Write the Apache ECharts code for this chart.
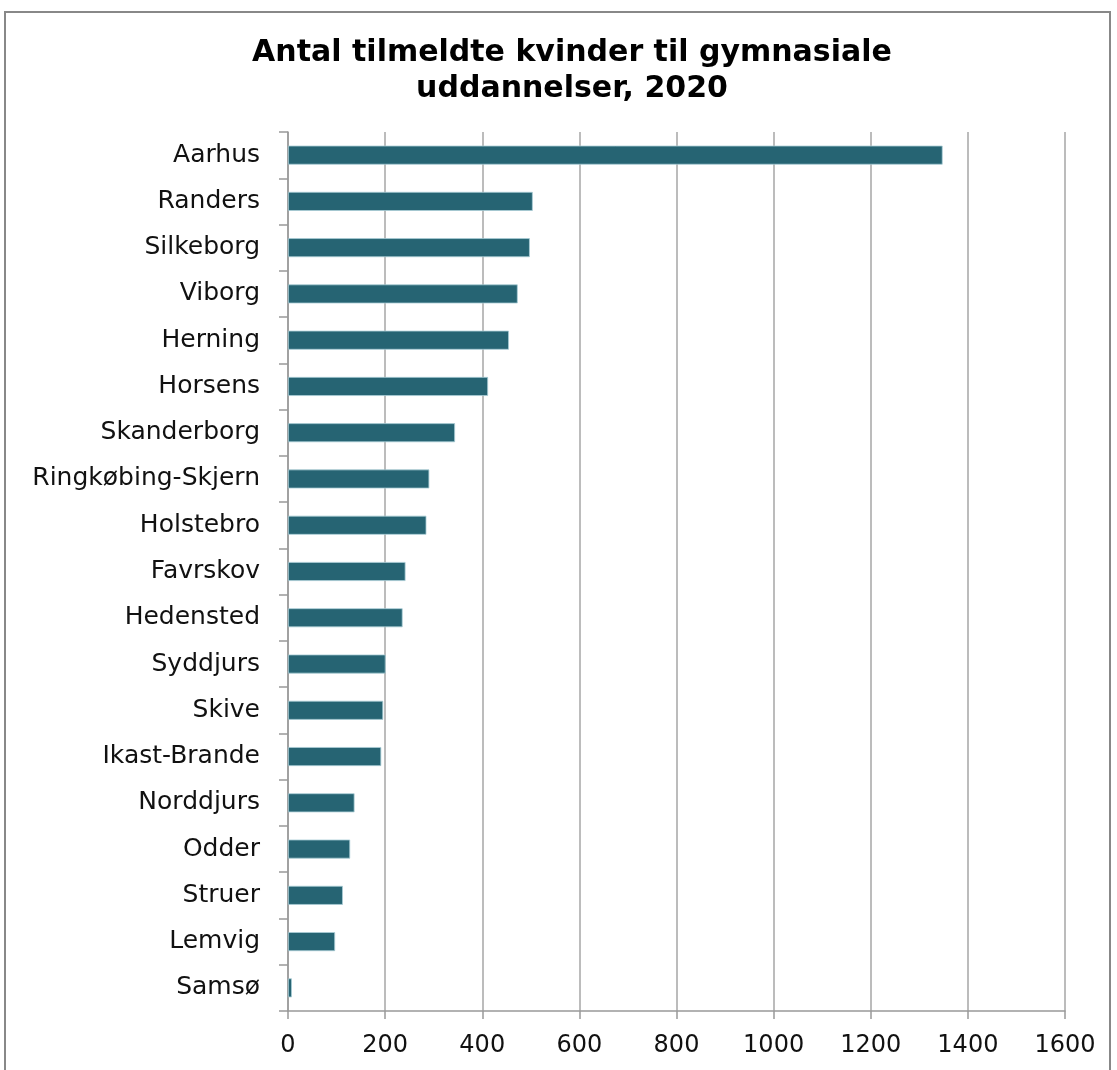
<!DOCTYPE html>
<html>
<head>
<meta charset="utf-8">
<script src="https://cdn.jsdelivr.net/npm/echarts@6/dist/echarts.min.js"></script>
<style>
  html, body { margin: 0; padding: 0; background: #fff; }
  #main { width: 1117px; height: 1070px; }
</style>
</head>
<body>
<div id="main"></div>
<script>
var kommuner = ['Aarhus', 'Randers', 'Silkeborg', 'Viborg', 'Herning', 'Horsens', 'Skanderborg',
  'Ringkøbing-Skjern', 'Holstebro', 'Favrskov', 'Hedensted', 'Syddjurs', 'Skive',
  'Ikast-Brande', 'Norddjurs', 'Odder', 'Struer', 'Lemvig', 'Samsø'];
var tilmeldte = [1348, 504, 498, 473, 455, 412, 344, 291, 285, 242, 236, 201, 196, 192, 137, 128, 113, 97, 8];
var xTicks = [0, 200, 400, 600, 800, 1000, 1200, 1400, 1600];

var myChart = echarts.init(document.getElementById('main'));

var option = {
  backgroundColor: '#fff',
  animation: false,
  title: {
    text: 'Antal tilmeldte kvinder til gymnasiale\nuddannelser, 2020',
    left: 567,
    textAlign: 'center',
    top: 30,
    textStyle: {
      fontFamily: 'DejaVu Sans',
      fontWeight: 'bold',
      fontSize: 30,
      lineHeight: 36,
      color: '#000'
    }
  },
  graphic: [{
    type: 'rect',
    shape: { x: 5, y: 12, width: 1105, height: 1070 },
    style: { fill: 'none', stroke: '#888', lineWidth: 2 },
    silent: true
  }],
  grid: { left: 288, right: 52, top: 132, bottom: 59 },
  xAxis: {
    type: 'value',
    min: xTicks[0],
    max: xTicks[xTicks.length - 1],
    interval: 200,
    axisLine: { show: true, lineStyle: { color: '#999', width: 1.5 } },
    axisTick: { show: true, length: 8, lineStyle: { color: '#999', width: 1.5 } },
    splitLine: { show: true, lineStyle: { color: '#a6a6a6', width: 1.5 } },
    axisLabel: {
      margin: 23,
      fontFamily: 'DejaVu Sans',
      fontSize: 24,
      color: '#111',
      formatter: function (v) { return String(v); }
    }
  },
  yAxis: {
    type: 'category',
    inverse: true,
    data: kommuner,
    axisLine: { show: true, lineStyle: { color: '#999', width: 1.5 } },
    axisTick: { show: true, length: 9, lineStyle: { color: '#999', width: 1.5 } },
    axisLabel: {
      margin: 28,
      fontFamily: 'DejaVu Sans',
      fontSize: 25,
      color: '#111'
    }
  },
  series: [{
    type: 'bar',
    data: tilmeldte,
    barWidth: 19,
    itemStyle: { color: '#266473', borderColor: '#a9cdd6', borderWidth: 0.8 }
  }]
};

myChart.setOption(option);
</script>
</body>
</html>
